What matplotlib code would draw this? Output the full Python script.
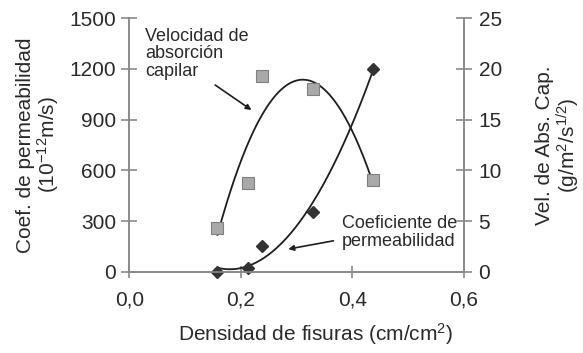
import numpy as np
import matplotlib
matplotlib.use("Agg")
import matplotlib.pyplot as plt

plt.rcParams['font.family'] = ['Liberation Sans', 'DejaVu Sans']
plt.rcParams['mathtext.fontset'] = 'custom'
plt.rcParams['mathtext.rm'] = 'Liberation Sans'
plt.rcParams['mathtext.it'] = 'Liberation Sans'

# Crack density (cm/cm2) for each specimen
densidad = [0.158, 0.213, 0.238, 0.330, 0.436]
# Permeability coefficient (10^-12 m/s), left axis
permeabilidad = [0, 20, 155, 355, 1200]
# Capillary absorption rate (g/m2/s^1/2), right axis
absorcion = [4.3, 8.8, 19.3, 18.0, 9.0]

x_ticks = [0.0, 0.2, 0.4, 0.6]
x_labels = ['0,0', '0,2', '0,4', '0,6']
y1_ticks = [0, 300, 600, 900, 1200, 1500]
y2_ticks = [0, 5, 10, 15, 20, 25]

spine_col = '#8a8a8a'
text_col = '#2a2a2a'
line_col = '#1e1e1e'

fig = plt.figure(figsize=(5.83, 3.53), dpi=100)
ax = fig.add_axes([0.2218, 0.2303, 0.5741, 0.7179])
ax2 = ax.twinx()

# polynomial trend lines through each series
xs = np.linspace(min(densidad), max(densidad), 200)
p_perm = np.polyfit(densidad, permeabilidad, 2)
p_abs = np.polyfit(densidad, absorcion, 3)
ax.plot(xs, np.polyval(p_perm, xs), color=line_col, lw=1.3, zorder=3)
ax2.plot(xs, np.polyval(p_abs, xs), color=line_col, lw=1.3, zorder=3)

ax.plot(densidad, permeabilidad, 'D', ms=6.5, color='#333333', mec='#333333', zorder=4, clip_on=False)
ax2.plot(densidad, absorcion, 's', ms=8, mfc='#a9a9a9', mec='#808080', mew=0.8, zorder=4)

ax.set_xlim(0, 0.6)
ax.set_ylim(0, 1500)
ax2.set_ylim(0, 25)
ax.set_xticks(x_ticks)
ax.set_xticklabels(x_labels)
ax.set_yticks(y1_ticks)
ax2.set_yticks(y2_ticks)

for a in (ax, ax2):
    a.spines['top'].set_visible(False)
    for s in ('left', 'right', 'bottom'):
        a.spines[s].set_color(spine_col)
        a.spines[s].set_linewidth(1.2)
    a.tick_params(direction='inout', length=11, width=1.2, color=spine_col,
                  labelsize=15, labelcolor=text_col)
ax.tick_params(axis='x', length=9, pad=9)
ax.tick_params(axis='y', pad=4)
ax2.tick_params(axis='y', pad=5)

ax.set_ylabel('Coef. de permeabilidad\n(10$^{-12}$m/s)', fontsize=15,
              color=text_col, linespacing=1.0, labelpad=6)
ax2.set_ylabel('Vel. de Abs. Cap.\n(g/m$^{2}$/s$^{1/2}$)', fontsize=15,
               color=text_col, linespacing=1.0, rotation=90, labelpad=24)
fig.text(0.542, 0.053, 'Densidad de fisuras (cm/cm$^{2}$)', fontsize=15,
         color=text_col, ha='center', va='center')

# series labels with pointers
ax.text(0.028, 1445, 'Velocidad de\nabsorción\ncapilar', fontsize=13,
        color=text_col, ha='left', va='top', linespacing=1.05)
ax.annotate('', xy=(0.219, 957), xytext=(0.154, 1105),
            arrowprops=dict(arrowstyle='-|>', lw=1.2, color=line_col,
                            mutation_scale=8, shrinkA=0, shrinkB=0))
ax.text(0.381, 232, 'Coeficiente de\npermeabilidad', fontsize=13,
        color=text_col, ha='left', va='center', linespacing=1.05)
ax.annotate('', xy=(0.285, 134), xytext=(0.366, 183),
            arrowprops=dict(arrowstyle='-|>', lw=1.2, color=line_col,
                            mutation_scale=8, shrinkA=0, shrinkB=0))

fig.savefig('out.png', dpi=100)
